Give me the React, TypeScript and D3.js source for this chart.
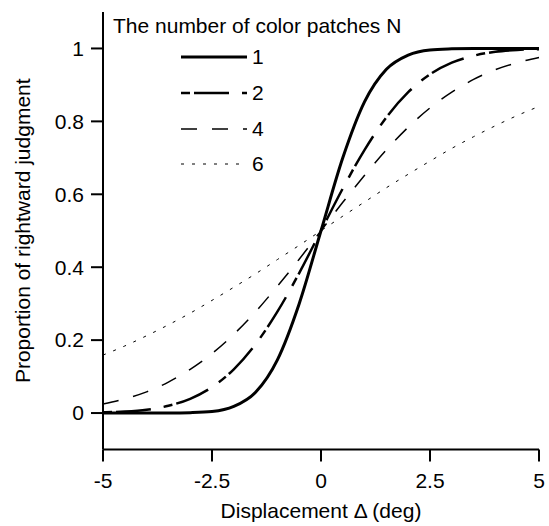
import React from 'react'
import * as d3 from 'd3'

// displacement (deg), sampled every 0.5
const displacement = [
  -5, -4.5, -4, -3.5, -3, -2.5, -2, -1.5, -1, -0.5, 0, 0.5, 1, 1.5, 2, 2.5, 3, 3.5, 4, 4.5, 5,
]

// proportion of rightward judgment
const n1 = [
  0, 0, 0, 0.0001, 0.001, 0.004, 0.018, 0.057, 0.146, 0.3, 0.5, 0.7, 0.854, 0.943, 0.982, 0.996,
  0.999, 1, 1, 1, 1,
]
const n2 = [
  0.002, 0.004, 0.009, 0.02, 0.039, 0.071, 0.12, 0.189, 0.278, 0.384, 0.5, 0.616, 0.722, 0.811,
  0.88, 0.929, 0.961, 0.98, 0.991, 0.996, 0.998,
]
const n4 = [
  0.025, 0.039, 0.058, 0.085, 0.12, 0.163, 0.216, 0.278, 0.348, 0.422, 0.5, 0.578, 0.652, 0.722,
  0.784, 0.837, 0.88, 0.915, 0.942, 0.961, 0.975,
]
const n6 = [
  0.159, 0.184, 0.212, 0.242, 0.274, 0.309, 0.345, 0.382, 0.421, 0.46, 0.5, 0.54, 0.579, 0.618,
  0.655, 0.691, 0.726, 0.758, 0.788, 0.816, 0.841,
]

const seriesLabels = ['1', '2', '4', '6']
const seriesValues = [n1, n2, n4, n6]

const xTicks = [-5, -2.5, 0, 2.5, 5]
const xTickLabels = ['-5', '-2.5', '0', '2.5', '5']
const yTicks = [0, 0.2, 0.4, 0.6, 0.8, 1]
const yTickLabels = ['0', '0.2', '0.4', '0.6', '0.8', '1']

const styles = [
  { width: 3, dash: 'none' },
  { width: 2.5, dash: '9,4,35,13' },
  { width: 1.5, dash: '16,15' },
  { width: 1, dash: '3,8' },
]

const font = 'Liberation Sans, Arial, sans-serif'

export default function App() {
  const width = 549
  const height = 526

  const x = d3.scaleLinear().domain([-5, 5]).range([103, 539])
  const y = d3.scaleLinear().domain([-0.1, 1.1]).range([449.5, 12])

  const line = d3
    .line<number>()
    .x((d, i) => x(displacement[i]))
    .y((d) => y(d))
    .curve(d3.curveMonotoneX)

  const legendX0 = 181
  const legendX1 = 247
  const legendRows = [57, 93, 129, 164]

  return (
    <svg
      width={width}
      height={height}
      style={{ position: 'absolute', left: 0, top: 0, background: 'white' }}
      fontFamily={font}
    >
      {/* curves */}
      {seriesValues.map((vals, i) => (
        <path
          key={i}
          d={line(vals) || ''}
          fill="none"
          stroke="black"
          strokeWidth={styles[i].width}
          strokeDasharray={styles[i].dash}
        />
      ))}

      {/* axes */}
      <g stroke="black" strokeWidth={2}>
        <line x1={x(-5)} x2={x(-5)} y1={y(1.1)} y2={y(-0.1)} />
        <line x1={x(-5)} x2={x(5)} y1={y(-0.1)} y2={y(-0.1)} />
        {yTicks.map((t) => (
          <line key={t} x1={x(-5) - 12} x2={x(-5)} y1={y(t)} y2={y(t)} />
        ))}
        {xTicks.map((t) => (
          <line key={t} x1={x(t)} x2={x(t)} y1={y(-0.1)} y2={y(-0.1) + 12} />
        ))}
      </g>
      {yTicks.map((t, i) => (
        <text key={t} x={84} y={y(t)} dy="0.35em" textAnchor="end" fontSize={21}>
          {yTickLabels[i]}
        </text>
      ))}
      {xTicks.map((t, i) => (
        <text key={t} x={x(t)} y={488} textAnchor="middle" fontSize={21}>
          {xTickLabels[i]}
        </text>
      ))}
      <text x={x(0)} y={518} textAnchor="middle" fontSize={21}>
        Displacement Δ (deg)
      </text>
      <text
        transform={`translate(30, ${(y(1.1) + y(-0.1)) / 2}) rotate(-90)`}
        textAnchor="middle"
        fontSize={21}
      >
        Proportion of rightward judgment
      </text>

      {/* legend */}
      <text x={113} y={33} fontSize={21}>
        The number of color patches N
      </text>
      {seriesLabels.map((lab, i) => (
        <g key={lab}>
          <line
            x1={legendX0}
            x2={legendX1}
            y1={legendRows[i]}
            y2={legendRows[i]}
            stroke="black"
            strokeWidth={styles[i].width}
            strokeDasharray={styles[i].dash}
          />
          <text x={252} y={legendRows[i]} dy="0.35em" fontSize={21}>
            {lab}
          </text>
        </g>
      ))}
    </svg>
  )
}
